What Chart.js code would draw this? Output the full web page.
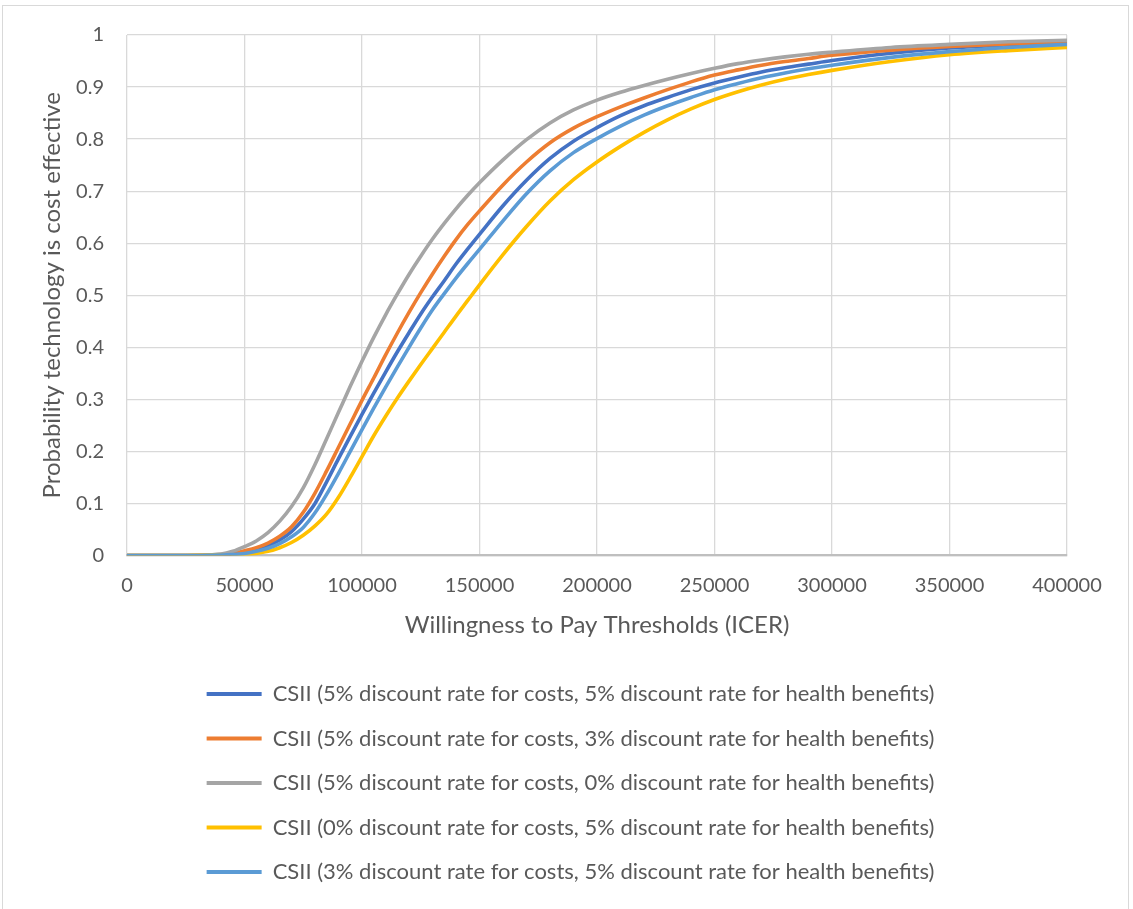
<!DOCTYPE html>
<html>
<head>
<meta charset="utf-8">
<title>CSII cost-effectiveness acceptability curves</title>
<script src="https://cdn.jsdelivr.net/npm/chart.js@4.4.1/dist/chart.umd.min.js"></script>
<style>
  html, body { margin: 0; padding: 0; background: #ffffff; }
  #wrap { position: relative; width: 1133px; height: 909px; overflow: hidden; }
  #frame { position: absolute; left: 2px; top: 5px; width: 1127px; height: 920px; border: 1px solid #d9d9d9; box-sizing: border-box; pointer-events: none; }
  canvas { position: absolute; left: 0; top: 0; }
</style>
</head>
<body>
<div id="wrap">
  <div id="frame"></div>
  <canvas id="ceac" width="1133" height="909"></canvas>
</div>
<script>
// Willingness-to-pay thresholds (x) and probability that CSII is cost effective (y)
const wtp = [0, 20000, 40000, 45000, 50000, 55000, 60000, 65000, 70000, 75000,
  80000, 85000, 90000, 95000, 100000, 105000, 110000, 115000, 120000, 125000,
  130000, 135000, 140000, 145000, 150000,
  160000, 170000, 180000, 190000, 200000, 210000, 220000, 230000, 240000, 250000,
  260000, 270000, 280000, 290000, 300000,
  325000, 350000, 375000, 400000];

const costs5health5 = [0, 0, 0.001, 0.003, 0.006, 0.011, 0.019, 0.03, 0.046, 0.07,
  0.1, 0.142, 0.186, 0.229, 0.271, 0.312, 0.352, 0.391, 0.428, 0.464,
  0.497, 0.528, 0.56, 0.589, 0.617,
  0.672, 0.721, 0.763, 0.796, 0.822, 0.845, 0.864, 0.88, 0.895, 0.908,
  0.919, 0.929, 0.937, 0.944, 0.951,
  0.965, 0.975, 0.981, 0.985];

const costs5health3 = [0, 0, 0.002, 0.004, 0.009, 0.015, 0.024, 0.037, 0.055, 0.083,
  0.12, 0.163, 0.208, 0.253, 0.298, 0.341, 0.385, 0.427, 0.467, 0.505,
  0.541, 0.575, 0.607, 0.636, 0.662,
  0.712, 0.756, 0.793, 0.821, 0.843, 0.862, 0.879, 0.895, 0.91, 0.923,
  0.933, 0.942, 0.949, 0.955, 0.961,
  0.971, 0.978, 0.983, 0.987];

const costs5health0 = [0, 0, 0.003, 0.008, 0.017, 0.028, 0.044, 0.066, 0.094, 0.13,
  0.175, 0.225, 0.275, 0.325, 0.373, 0.419, 0.462, 0.502, 0.54, 0.575,
  0.608, 0.638, 0.666, 0.692, 0.716,
  0.76, 0.799, 0.831, 0.856, 0.875, 0.89, 0.903, 0.915, 0.926, 0.936,
  0.945, 0.952, 0.958, 0.963, 0.967,
  0.976, 0.982, 0.987, 0.99];

const costs0health5 = [0, 0, 0.001, 0.001, 0.002, 0.004, 0.008, 0.015, 0.025, 0.039,
  0.057, 0.08, 0.112, 0.15, 0.19, 0.23, 0.267, 0.302, 0.335, 0.367,
  0.398, 0.429, 0.46, 0.49, 0.52,
  0.578, 0.632, 0.681, 0.722, 0.756, 0.786, 0.813, 0.837, 0.858, 0.876,
  0.891, 0.904, 0.915, 0.924, 0.932,
  0.949, 0.962, 0.97, 0.976];

const costs3health5 = [0, 0, 0.001, 0.002, 0.004, 0.008, 0.014, 0.023, 0.036, 0.054,
  0.082, 0.118, 0.158, 0.2, 0.242, 0.283, 0.323, 0.362, 0.4, 0.437,
  0.472, 0.503, 0.533, 0.561, 0.588,
  0.643, 0.695, 0.739, 0.774, 0.801, 0.825, 0.846, 0.864, 0.88, 0.895,
  0.907, 0.918, 0.927, 0.935, 0.942,
  0.957, 0.968, 0.976, 0.982];

const seriesNames = [
  'CSII (5% discount rate for costs, 5% discount rate for health benefits)',
  'CSII (5% discount rate for costs, 3% discount rate for health benefits)',
  'CSII (5% discount rate for costs, 0% discount rate for health benefits)',
  'CSII (0% discount rate for costs, 5% discount rate for health benefits)',
  'CSII (3% discount rate for costs, 5% discount rate for health benefits)'
];
const seriesValues = [costs5health5, costs5health3, costs5health0, costs0health5, costs3health5];
const seriesColors = ['#4472C4', '#ED7D31', '#A5A5A5', '#FFC000', '#5B9BD5'];

const textColor = '#595959';
const fontFamily = 'Lato, "Open Sans", "Liberation Sans", sans-serif';

const datasets = seriesNames.map((name, i) => ({
  label: name,
  data: wtp.map((x, k) => ({ x: x, y: seriesValues[i][k] })),
  borderColor: seriesColors[i],
  backgroundColor: seriesColors[i],
  borderWidth: 3.6,
  pointRadius: 0,
  pointHoverRadius: 0,
  cubicInterpolationMode: 'monotone',
  fill: false,
  // later series are painted over earlier ones
  order: seriesNames.length - i
}));

// Centre the legend block under the whole chart rather than the padded area
const legendShift = {
  id: 'legendShift',
  afterLayout(chart) {
    if (chart.legend) {
      chart.legend.left += 22;
      chart.legend.right += 22;
    }
  }
};

new Chart(document.getElementById('ceac'), {
  type: 'line',
  data: { datasets: datasets },
  plugins: [legendShift],
  options: {
    responsive: false,
    animation: false,
    devicePixelRatio: 1,
    layout: { padding: { left: 30, right: 66, top: 34, bottom: 16 } },
    scales: {
      x: {
        type: 'linear',
        min: 0,
        max: 400000,
        ticks: {
          stepSize: 50000,
          padding: 18,
          color: textColor,
          font: { family: fontFamily, size: 20 },
          callback: v => String(v),
          maxRotation: 0
        },
        grid: { color: '#d9d9d9', lineWidth: 1.3, drawTicks: false },
        border: { color: '#bfbfbf', width: 2.2 },
        title: {
          display: true,
          text: 'Willingness to Pay Thresholds (ICER)',
          color: textColor,
          font: { family: fontFamily, size: 24 },
          padding: { top: 0, bottom: 21 }
        },
        afterFit: scale => { scale.height = 105; }
      },
      y: {
        type: 'linear',
        min: 0,
        max: 1,
        ticks: {
          stepSize: 0.1,
          padding: 23,
          color: textColor,
          font: { family: fontFamily, size: 20 },
          callback: v => String(Math.round(v * 10) / 10)
        },
        grid: { color: '#d9d9d9', lineWidth: 1.3, drawTicks: false },
        border: { display: false },
        title: {
          display: true,
          text: 'Probability technology is cost effective',
          color: textColor,
          font: { family: fontFamily, size: 24 },
          padding: { top: 8, bottom: 0 }
        },
        afterFit: scale => { scale.width = 97; }
      }
    },
    plugins: {
      legend: {
        position: 'bottom',
        align: 'center',
        labels: {
          color: textColor,
          font: { family: fontFamily, size: 22 },
          boxWidth: 55,
          boxHeight: 4,
          padding: 22.5,
          sort: (a, b) => a.datasetIndex - b.datasetIndex,
          generateLabels: chart =>
            Chart.defaults.plugins.legend.labels.generateLabels(chart).map(item =>
              Object.assign({}, item, { lineWidth: 0, fillStyle: item.strokeStyle }))
        }
      },
      tooltip: { enabled: false }
    }
  }
});
</script>
</body>
</html>
